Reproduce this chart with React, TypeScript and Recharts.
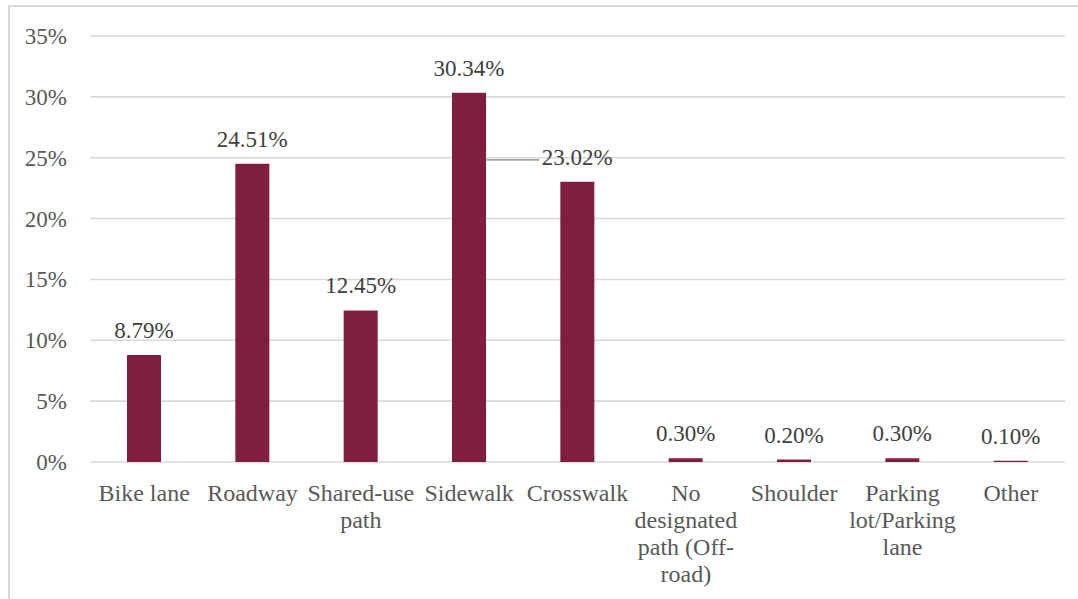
import React from 'react';
import { BarChart, Bar, XAxis, YAxis, CartesianGrid, LabelList } from 'recharts';

// categories; '\n' marks where the label wraps
const categories = [
  'Bike lane',
  'Roadway',
  'Shared-use\npath',
  'Sidewalk',
  'Crosswalk',
  'No\ndesignated\npath (Off-\nroad)',
  'Shoulder',
  'Parking\nlot/Parking\nlane',
  'Other',
];
const shares = [8.79, 24.51, 12.45, 30.34, 23.02, 0.3, 0.2, 0.3, 0.1];
const shareLabels = ['8.79%', '24.51%', '12.45%', '30.34%', '23.02%', '0.30%', '0.20%', '0.30%', '0.10%'];
const yTicks = [0, 5, 10, 15, 20, 25, 30, 35];

const FONT = "'Liberation Serif', 'Times New Roman', Times, serif";
const BAR = '#801E40';

const data = categories.map((name, i) => ({ name, value: shares[i], label: shareLabels[i] }));

const CategoryTick = (props: any) => {
  const { x, y, payload } = props;
  const lines = String(payload.value).split('\n');
  return (
    <text x={x} y={y} textAnchor="middle" fill="#595959" style={{ fontSize: 24, fontFamily: FONT }}>
      {lines.map((line, i) => (
        <tspan key={i} x={x} y={y + 39 + i * 27}>
          {line}
        </tspan>
      ))}
    </text>
  );
};

const AxisTick = (props: any) => {
  const { x, y, payload } = props;
  return (
    <text x={x} y={y} dy={8} textAnchor="end" fill="#595959" style={{ fontSize: 23, fontFamily: FONT }}>
      {`${payload.value}%`}
    </text>
  );
};

const ValueLabel = (props: any) => {
  const { x, y, width, index } = props;
  const cx = x + width / 2;
  const ty = y - 17;
  const isCrosswalk = index === 4;
  return (
    <g>
      {isCrosswalk && (
        <line x1={x - 74} x2={x - 21} y1={y - 22} y2={y - 22} stroke="#7f7f7f" strokeWidth={1.2} />
      )}
      <text x={cx} y={ty} textAnchor="middle" fill="#404040" style={{ fontSize: 23, fontFamily: FONT }}>
        {shareLabels[index]}
      </text>
    </g>
  );
};

export default function App() {
  return (
    <>
      <div
        style={{
          position: 'fixed',
          left: 8,
          top: 5,
          width: 1100,
          height: 640,
          border: '2px solid #d9d9d9',
          background: '#fff',
        }}
      />
      <div style={{ position: 'fixed', left: 0, top: 0 }}>
        <BarChart
          width={1078}
          height={599}
          data={data}
          margin={{ top: 36, right: 13, left: 10, bottom: 7 }}
        >
          <CartesianGrid horizontal vertical={false} stroke="#d9d9d9" strokeWidth={1.6} />
          <XAxis
            dataKey="name"
            axisLine={false}
            tickLine={false}
            tickSize={0}
            tickMargin={0}
            height={130}
            interval={0}
            tick={<CategoryTick />}
          />
          <YAxis
            domain={[0, 35]}
            ticks={yTicks}
            width={80}
            axisLine={false}
            tickLine={false}
            tickSize={0}
            tickMargin={23}
            tick={<AxisTick />}
          />
          <Bar dataKey="value" fill={BAR} barSize={34} isAnimationActive={false}>
            <LabelList dataKey="label" content={<ValueLabel />} />
          </Bar>
        </BarChart>
      </div>
    </>
  );
}
